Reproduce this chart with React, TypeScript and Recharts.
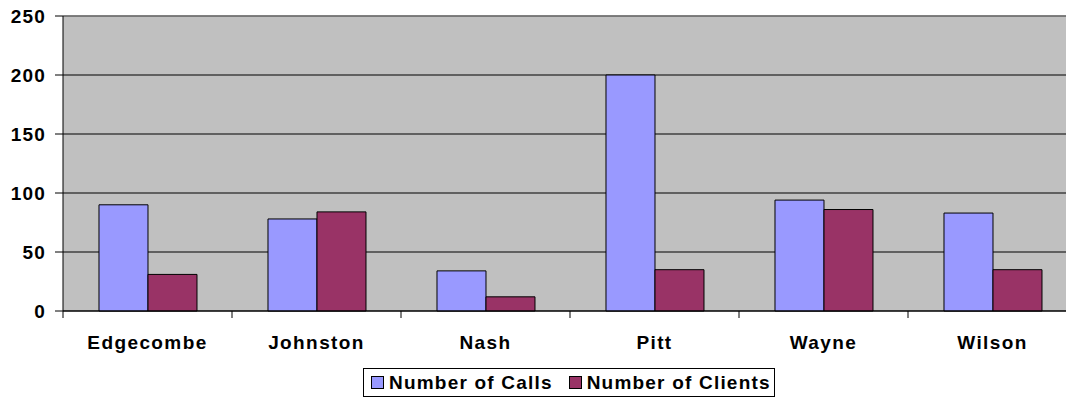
import React from 'react'
import {
  BarChart,
  Bar,
  XAxis,
  YAxis,
  CartesianGrid,
  Legend,
  ReferenceLine
} from 'recharts'

const counties = ['Edgecombe', 'Johnston', 'Nash', 'Pitt', 'Wayne', 'Wilson']
const calls = [90, 78, 34, 200, 94, 83]
const clients = [31, 84, 12, 35, 86, 35]
const yTicks = [0, 50, 100, 150, 200, 250]

const data = counties.map((county, i) => ({
  county,
  calls: calls[i],
  clients: clients[i]
}))

const FONT = '"Liberation Sans", Arial, Helvetica, sans-serif'
const CALLS_COLOR = '#9999FF'
const CLIENTS_COLOR = '#993366'

const CategoryTick = (props: any) => {
  const { x, y, payload } = props
  const half = payload && payload.offset ? payload.offset : 84.5
  return (
    <g>
      <line x1={x - half} y1={y} x2={x - half} y2={y + 7} stroke="#000" strokeWidth={1} />
      <text
        x={x}
        y={y + 38}
        textAnchor="middle"
        fontFamily={FONT}
        fontSize={19}
        fontWeight="bold"
        letterSpacing={1.4}
        fill="#000"
      >
        {payload.value}
      </text>
    </g>
  )
}

const LegendBox = () => {
  const items = [
    { label: 'Number of Calls', color: CALLS_COLOR },
    { label: 'Number of Clients', color: CLIENTS_COLOR }
  ]
  return (
    <div
      style={{
        boxSizing: 'border-box',
        height: 29,
        width: 412,
        border: '1px solid #000',
        background: '#fff',
        display: 'flex',
        alignItems: 'center',
        paddingLeft: 7,
        fontFamily: FONT,
        fontSize: 19,
        fontWeight: 'bold',
        letterSpacing: 1.2,
        color: '#000',
        lineHeight: '27px'
      }}
    >
      {items.map((it, i) => (
        <span key={i} style={{ display: 'flex', alignItems: 'center', marginRight: i === 0 ? 16 : 0 }}>
          <span
            style={{
              display: 'inline-block',
              boxSizing: 'border-box',
              width: 13,
              height: 13,
              background: it.color,
              border: '1px solid #000',
              marginRight: 5
            }}
          />
          {it.label}
        </span>
      ))}
    </div>
  )
}

export default function App() {
  return (
    <div
      style={{
        position: 'absolute',
        left: 0,
        top: 0,
        width: 1066,
        height: 401,
        overflow: 'hidden',
        background: '#fff'
      }}
    >
      <BarChart
        width={1090}
        height={401}
        data={data}
        margin={{ top: 16, right: 13, left: 0, bottom: 4 }}
        barCategoryGap="21.3%"
        barGap={0}
      >
        <CartesianGrid vertical={false} stroke="#000" fill="#C0C0C0" fillOpacity={1} />
        <XAxis
          dataKey="county"
          height={57}
          tickSize={0}
          tickMargin={0}
          tickLine={false}
          axisLine={{ stroke: '#000' }}
          tick={<CategoryTick />}
          interval={0}
        />
        <YAxis
          width={63}
          domain={[0, 250]}
          ticks={yTicks}
          interval={0}
          tickSize={8}
          tickMargin={9}
          axisLine={{ stroke: '#000' }}
          tickLine={{ stroke: '#000' }}
          tick={{ fontFamily: FONT, fontSize: 19, fontWeight: 'bold', fill: '#000', letterSpacing: 1.2 }}
        />
        <ReferenceLine y={250} stroke="#808080" strokeWidth={1.5} />
        <Bar dataKey="calls" name="Number of Calls" fill={CALLS_COLOR} stroke="#000" strokeWidth={1} isAnimationActive={false} />
        <Bar dataKey="clients" name="Number of Clients" fill={CLIENTS_COLOR} stroke="#000" strokeWidth={1} isAnimationActive={false} />
        <Legend
          verticalAlign="bottom"
          content={<LegendBox />}
          wrapperStyle={{ left: 363, width: 412, height: 29 }}
        />
      </BarChart>
    </div>
  )
}
